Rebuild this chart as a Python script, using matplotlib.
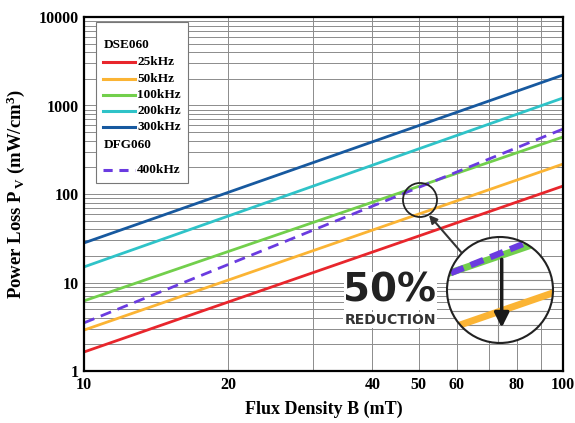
import matplotlib
matplotlib.use("Agg")
import matplotlib.pyplot as plt
from matplotlib.patches import Circle, Ellipse, Rectangle
from matplotlib.lines import Line2D
from matplotlib.ticker import FixedLocator, NullFormatter, LogLocator

plt.rcParams['font.family'] = ['Liberation Serif', 'DejaVu Serif']
plt.rcParams['font.weight'] = 'bold'
plt.rcParams['mathtext.default'] = 'regular'

flux = [10, 100]
p25 = [1.64, 123]
p50 = [2.9, 218]
p100 = [6.2, 441]
p200 = [15, 1216]
p300 = [28, 2210]
p400 = [3.5, 542]

series = [("25kHz", p25, "#e8262c"),
          ("50kHz", p50, "#fbb434"),
          ("100kHz", p100, "#72cf4c"),
          ("200kHz", p200, "#2fc3c8"),
          ("300kHz", p300, "#17599f")]
dfg_label = "400kHz"
dfg_color = "#6a3be0"

x_ticks = [10, 20, 40, 50, 60, 80, 100]
x_minor = [30, 70, 90]
y_ticks = [1, 10, 100, 1000, 10000]

fig = plt.figure(figsize=(5.75, 4.23), dpi=100)
ax = fig.add_axes([84/575, 1-371/423, 479/575, 354/423])

for lab, vals, col in series:
    ax.plot(flux, vals, color=col, lw=2.0, solid_capstyle='butt')
ax.plot(flux, p400, color=dfg_color, lw=2.0, ls=(0, (4, 2.5)))

ax.set_xscale('log')
ax.set_yscale('log')
ax.set_xlim(10, 100)
ax.set_ylim(1, 10000)
ax.xaxis.set_major_locator(FixedLocator(x_ticks))
ax.xaxis.set_minor_locator(FixedLocator(x_minor))
ax.set_xticklabels([str(v) for v in x_ticks])
ax.xaxis.set_minor_formatter(NullFormatter())
ax.yaxis.set_major_locator(FixedLocator(y_ticks))
ax.set_yticklabels([str(v) for v in y_ticks])
ax.yaxis.set_minor_locator(LogLocator(base=10, subs=range(2, 10)))
ax.yaxis.set_minor_formatter(NullFormatter())
ax.tick_params(which='both', length=0, labelsize=11.5, pad=4)
ax.grid(True, which='both', color='#8c8c8c', lw=0.7)
for s in ax.spines.values():
    s.set_linewidth(1.6)

ax.set_xlabel("Flux Density B (mT)", fontsize=13, fontweight='bold', labelpad=6)
ax.set_ylabel(r"Power Loss P$_{\,V}$ (mW/cm$^{3}$)", fontsize=13.5,
              fontweight='bold', labelpad=8)

# legend drawn by hand so the two group headings sit flush left
ax.add_patch(Rectangle((0.025, 0.531), 0.192, 0.455, transform=ax.transAxes,
                       fc='white', ec='#777777', lw=0.8, zorder=5))

def ypos(py):
    return (371 - py) / 354

def xpos(px):
    return (px - 84) / 479

ax.text(xpos(104), ypos(45), "DSE060", transform=ax.transAxes, fontsize=9.5,
        va='center', ha='left', zorder=6)
rows = [62, 79, 95, 111, 127]
for (lab, vals, col), py in zip(series, rows):
    ax.add_line(Line2D([xpos(103), xpos(135)], [ypos(py), ypos(py)],
                       transform=ax.transAxes, color=col, lw=2.2, zorder=6))
    ax.text(xpos(137), ypos(py), lab, transform=ax.transAxes, fontsize=9.5,
            va='center', ha='left', zorder=6)
ax.text(xpos(104), ypos(145), "DFG060", transform=ax.transAxes, fontsize=9.5,
        va='center', ha='left', zorder=6)
ax.add_line(Line2D([xpos(103), xpos(135)], [ypos(170), ypos(170)],
                   transform=ax.transAxes, color=dfg_color, lw=2.2,
                   ls=(0, (3, 2.2)), zorder=6))
ax.text(xpos(137), ypos(170), dfg_label, transform=ax.transAxes, fontsize=9.5,
        va='center', ha='left', zorder=6)

# small circle marking the crossing region
ax.add_patch(Ellipse((xpos(420), ypos(200)), 34/479, 34/354, transform=ax.transAxes,
                     fc='none', ec='#222222', lw=1.3, zorder=7))

# arrow from magnifier to small circle
ax.annotate("", xy=(429, 423-215), xycoords='figure pixels',
            xytext=(461, 423-252), textcoords='figure pixels',
            arrowprops=dict(arrowstyle='-|>', color='#333333', lw=1.5,
                            mutation_scale=12, shrinkA=0, shrinkB=0), zorder=7)

# text
fig.text(390/575, 1-291/423, "50%", family='DejaVu Sans', fontweight='bold',
         fontsize=28, color='#222222', ha='center', va='center',
         bbox=dict(fc='white', ec='none', pad=0))
fig.text(390/575, 1-320/423, "REDUCTION", family='DejaVu Sans', fontweight='bold',
         fontsize=10, color='#333333', ha='center', va='center',
         bbox=dict(fc='white', ec='none', pad=1))

# magnified view
axi = fig.add_axes([447/575, 1-343/423, 106/575, 106/423])
axi.set_xscale('log')
axi.set_yscale('log')
axi.set_xlim(44.3, 57.1)
axi.set_ylim(39.7, 157.7)
axi.patch.set_visible(False)
for s in axi.spines.values():
    s.set_visible(False)
axi.set_xticks([50])
axi.set_xticks([], minor=True)
axi.yaxis.set_major_locator(FixedLocator([40, 50, 60, 70, 80, 90, 100, 150]))
axi.yaxis.set_minor_locator(FixedLocator([]))
axi.tick_params(which='both', length=0, labelbottom=False, labelleft=False)
axi.grid(True, which='major', color='#8c8c8c', lw=0.8)

bg = Circle((0.5, 0.5), 0.5, transform=axi.transAxes, fc='white', ec='none', zorder=0)
axi.add_patch(bg)
clip = Circle((0.5, 0.5), 0.5, transform=axi.transAxes, fc='none', ec='none')
axi.add_patch(clip)

arts = []
arts += axi.plot(flux, p100, color="#72cf4c", lw=5, solid_capstyle='butt')
arts += axi.plot(flux, [v * 1.06 for v in p400], color=dfg_color, lw=4.5,
                 ls=(0, (2.2, 1.2)))
arts += axi.plot(flux, p50, color="#fbb434", lw=5, solid_capstyle='butt')
for a in arts + axi.get_xgridlines() + axi.get_ygridlines():
    a.set_clip_path(clip)

axi.annotate("", xy=(50.5, 48.5), xytext=(50.5, 118),
             arrowprops=dict(arrowstyle='-|>', color='#1a1a1a', lw=2.5,
                             mutation_scale=22, shrinkA=0, shrinkB=0))

axi.add_patch(Circle((0.5, 0.5), 0.5, transform=axi.transAxes, fc='none',
                     ec='#222222', lw=1.5, zorder=10, clip_on=False))

fig.savefig("out.png", dpi=100)
